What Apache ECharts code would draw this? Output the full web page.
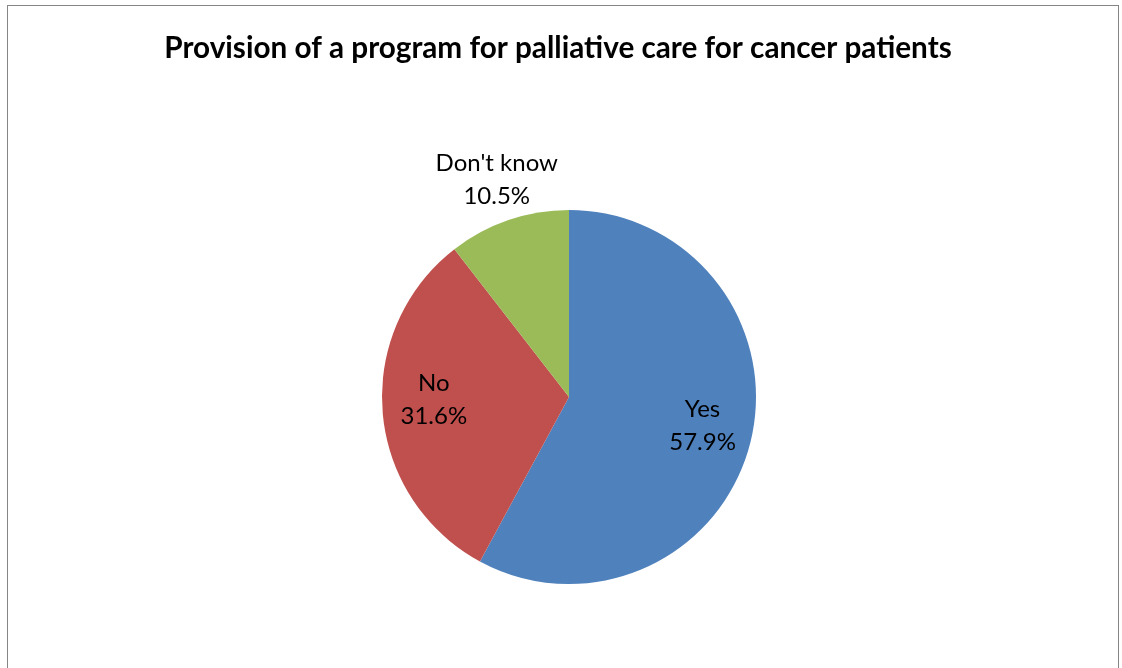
<!DOCTYPE html>
<html>
<head>
<meta charset="utf-8">
<script src="https://cdn.jsdelivr.net/npm/echarts@6/dist/echarts.min.js"></script>
<style>
html,body{margin:0;padding:0;background:#fff;overflow:hidden;}
#chart{position:absolute;left:0;top:0;width:1122px;height:668px;}
#frame{position:absolute;left:7px;top:5px;width:1110px;height:700px;border:1px solid #868686;border-bottom:none;pointer-events:none;}
</style>
</head>
<body>
<div id="chart"></div>
<div id="frame"></div>
<script>
const titleText = "Provision of a program for palliative care for cancer patients";
const categories = ["Yes", "No", "Don't know"];
const values = [57.9, 31.6, 10.5];
const colors = ["#4F81BD", "#C0504D", "#9BBB59"];
const labelOffsets = [[40, 5], [-39, -5], [-41, -126]];

const chart = echarts.init(document.getElementById('chart'), null, {renderer: 'canvas'});
chart.setOption({
  animation: false,
  backgroundColor: '#ffffff',
  title: {
    text: titleText,
    left: 553,
    textAlign: 'center',
    top: 28,
    textStyle: {fontFamily: 'Lato', fontWeight: 'bold', fontSize: 29.7, color: '#000'}
  },
  series: [{
    type: 'pie',
    center: [569, 397],
    radius: [0, 187],
    startAngle: 90,
    clockwise: true,
    silent: true,
    itemStyle: {borderWidth: 0},
    label: {
      show: true,
      position: 'inside',
      formatter: p => p.name + '\n' + p.value.toFixed(1) + '%',
      fontFamily: 'Lato',
      fontSize: 24,
      lineHeight: 33,
      color: '#000'
    },
    labelLine: {show: false},
    data: categories.map((c, i) => ({
      name: c,
      value: values[i],
      itemStyle: {color: colors[i]},
      label: {offset: labelOffsets[i]}
    }))
  }]
});
</script>
</body>
</html>
